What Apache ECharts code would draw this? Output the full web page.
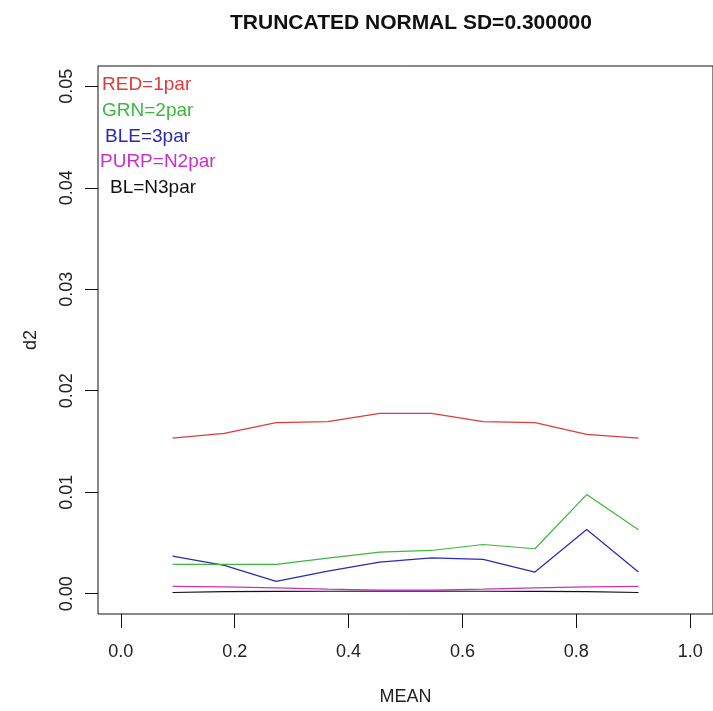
<!DOCTYPE html>
<html>
<head>
<meta charset="utf-8">
<script src="https://cdn.jsdelivr.net/npm/echarts@6/dist/echarts.min.js"></script>
<style>
  html, body { margin: 0; padding: 0; background: #fff; }
  #chart { width: 713px; height: 711px; }
</style>
</head>
<body>
<div id="chart"></div>
<script>
var dom = document.getElementById("chart");
var myChart = echarts.init(dom);
var option;

// x = (1:10)/11
var means = [1 / 11, 2 / 11, 3 / 11, 4 / 11, 5 / 11, 6 / 11, 7 / 11, 8 / 11, 9 / 11, 10 / 11];
var red1par = [0.01534, 0.0158, 0.01685, 0.01695, 0.01777, 0.01777, 0.01695, 0.01685, 0.0157, 0.01534];
var grn2par = [0.00289, 0.00289, 0.00289, 0.0035, 0.0041, 0.00426, 0.00485, 0.00443, 0.00977, 0.0063];
var ble3par = [0.0037, 0.00279, 0.00121, 0.00223, 0.00311, 0.00354, 0.00338, 0.00213, 0.00633, 0.00213];
var purpN2par = [0.00072, 0.00068, 0.00058, 0.00045, 0.00035, 0.00035, 0.00045, 0.00058, 0.00068, 0.00072];
var blN3par = [0.00012, 0.0002, 0.00022, 0.00024, 0.00025, 0.00025, 0.00024, 0.00022, 0.0002, 0.00012];

var xTicks = [0, 0.2, 0.4, 0.6, 0.8, 1.0];
var yTicks = [0, 0.01, 0.02, 0.03, 0.04, 0.05];

var legendNames = ['RED=1par', 'GRN=2par', 'BLE=3par', 'PURP=N2par', 'BL=N3par'];
var colors = ['#e03a3a', '#3cb83c', '#2a2ab4', '#c830c8', '#111111'];
var seriesData = [red1par, grn2par, ble3par, purpN2par, blN3par];

var font = 'Liberation Sans, Arial, sans-serif';

function pairs(ys) {
    return means.map(function (x, i) { return [x, ys[i]]; });
}

// legend text positions (left x, center y)
var legendPos = [[102, 85], [102, 111], [105, 137], [100, 162], [110, 188]];

option = {
    animation: false,
    backgroundColor: '#ffffff',
    title: {
        text: 'TRUNCATED NORMAL SD=0.300000',
        left: 406,
        textAlign: 'center',
        top: 8,
        textStyle: {
            fontFamily: font,
            fontWeight: 'bold',
            fontSize: 21,
            color: '#111'
        }
    },
    grid: {
        left: 98,
        top: 66,
        right: -5,
        bottom: 95,
        show: true,
        borderColor: '#111',
        borderWidth: 1,
        backgroundColor: 'transparent'
    },
    xAxis: {
        type: 'value',
        min: -0.04,
        max: 1.04,
        name: 'MEAN',
        nameLocation: 'middle',
        nameGap: 74,
        nameTextStyle: { fontFamily: font, fontSize: 18, color: '#222' },
        axisLine: { show: false, onZero: false },
        axisTick: {
            show: true,
            inside: false,
            length: 14,
            customValues: xTicks,
            lineStyle: { color: '#111', width: 1 }
        },
        axisLabel: {
            customValues: xTicks,
            margin: 29,
            fontFamily: font,
            fontSize: 18,
            color: '#222',
            formatter: function (v) { return v.toFixed(1); }
        },
        splitLine: { show: false }
    },
    yAxis: {
        type: 'value',
        min: -0.002,
        max: 0.052,
        name: 'd2',
        nameLocation: 'middle',
        nameRotate: 90,
        nameGap: 58,
        nameTextStyle: { fontFamily: font, fontSize: 18, color: '#222' },
        axisLine: { show: false, onZero: false },
        axisTick: {
            show: true,
            inside: false,
            length: 13,
            customValues: yTicks,
            lineStyle: { color: '#111', width: 1 }
        },
        axisLabel: {
            customValues: yTicks,
            rotate: 90,
            margin: 22,
            fontFamily: font,
            fontSize: 18,
            color: '#222',
            formatter: function (v) { return v.toFixed(2); }
        },
        splitLine: { show: false }
    },
    graphic: legendNames.map(function (name, i) {
        return {
            type: 'text',
            left: legendPos[i][0],
            top: legendPos[i][1] - 10,
            style: {
                text: name,
                fill: colors[i],
                font: '19px ' + font
            }
        };
    }),
    series: seriesData.map(function (ys, i) {
        return {
            name: legendNames[i],
            type: 'line',
            data: pairs(ys),
            symbol: 'none',
            lineStyle: { color: colors[i], width: 1.2 },
            z: 10 - i
        };
    })
};

myChart.setOption(option);
</script>
</body>
</html>
